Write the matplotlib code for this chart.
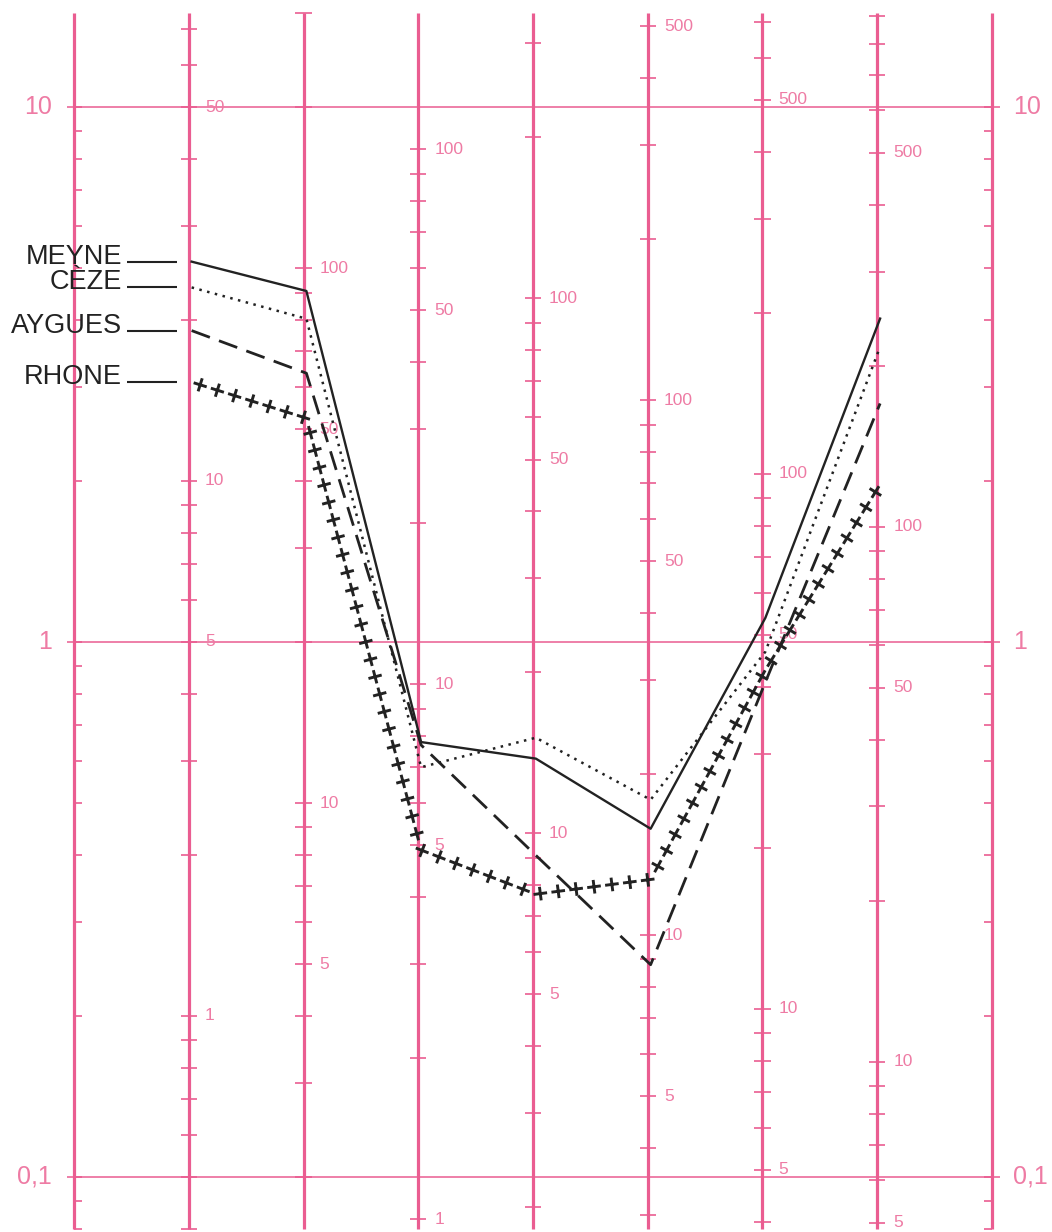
import numpy as np
import matplotlib
matplotlib.use("Agg")
import matplotlib.pyplot as plt
from matplotlib import patheffects

# nine vertical axes; each one is a log scale, shifted against the main 0,1 - 10 scale
axis_factor = [1, 5, 20, 12, 22.8, 35.3, 48.5, 60.9, 1]
axis_labels = [[], [50, 10, 5, 1], [100, 50, 10, 5], [100, 50, 10, 5, 1],
               [100, 50, 10, 5], [500, 100, 50, 10, 5], [500, 100, 50, 10, 5],
               [500, 100, 50, 10, 5], []]
main_values = [10, 1, 0.1]
main_labels = ["10", "1", "0,1"]

# river values read on axes 1..7 (each in its own axis units)
rivers = ["MEYNE", "CÈZE", "AYGUES", "RHONE"]
meyne = [25.7, 90.6, 7.8, 13.8, 15.8, 53.8, 245]
ceze = [23.0, 80.4, 7.0, 15.1, 17.9, 46.5, 217]
aygues = [19.1, 63.6, 7.7, 9.1, 8.8, 40.8, 170]
rhone = [15.3, 52.4, 4.9, 7.7, 12.7, 43.0, 120]

pink = "#ea5d91"
pink_txt = "#ee7ba4"
ink = "#222222"

fig = plt.figure(figsize=(10.52, 12.32), dpi=100)
ax = fig.add_axes([0, 0, 1, 1])
ax.set_yscale("log")
ax.set_xlim(-0.645, 8.523)
ax.set_ylim(0.0789, 15.85)
ax.axis("off")

ylo, yhi = 0.08, 15.0
tick = 0.07

# vertical axes and main gridlines
ax.vlines(range(9), ylo, yhi, color=pink, lw=2.3, zorder=1)
ax.hlines(main_values, -0.06, 8.07, color=pink, lw=1.1, zorder=1)

for i, f in enumerate(axis_factor):
    vals = []
    for k in range(int(np.floor(np.log10(ylo * f))), int(np.ceil(np.log10(yhi * f))) + 1):
        for m in range(1, 10):
            v = m * 10.0 ** k
            if ylo <= v / f <= yhi:
                vals.append(v / f)
    left = 0 if i == 0 else tick
    right = 0 if i == 8 else tick
    ax.hlines(vals, i - left, i + right, color=pink, lw=1.2, zorder=1)
    for v in axis_labels[i]:
        ax.text(i + 0.14, v / f, str(v), color=pink_txt, fontsize=12.5,
                family="Liberation Sans", ha="left", va="center", zorder=2)

for v, lbl in zip(main_values, main_labels):
    ax.text(-0.19, v, lbl, color=pink_txt, fontsize=18, family="Liberation Sans",
            ha="right", va="center")
    ax.text(8.18, v, lbl, color=pink_txt, fontsize=18, family="Liberation Sans",
            ha="left", va="center")

# river profiles
xs = np.arange(1, 8) + 0.025
scale = np.array(axis_factor[1:8])
ax.plot(xs, np.array(meyne) / scale, color=ink, lw=1.7, zorder=3)
ax.plot(xs, np.array(ceze) / scale, color=ink, lw=1.8, ls=(0, (1, 2.2)), zorder=3)
ax.plot(xs, np.array(aygues) / scale, color=ink, lw=2.0, ls=(0, (7, 3.5)), zorder=3)
cross = [patheffects.TickedStroke(spacing=12.9, angle=a, length=0.3) for a in (0, 90, 180, -90)]
ax.plot(xs, np.array(rhone) / scale, color=ink, lw=2.1, zorder=3, path_effects=cross)

# names with leader lines
for name, series in zip(rivers, [meyne, ceze, aygues, rhone]):
    y0 = series[0] / axis_factor[1]
    ax.hlines(y0, 0.462, 0.898, color=ink, lw=1.5)
    ax.annotate(name, xy=(0.418, y0), xytext=(0, 3.6), textcoords="offset points",
                ha="right", va="center", fontsize=19.5, color=ink,
                family="Liberation Sans")

fig.savefig("out.png", dpi=100, facecolor="white")
